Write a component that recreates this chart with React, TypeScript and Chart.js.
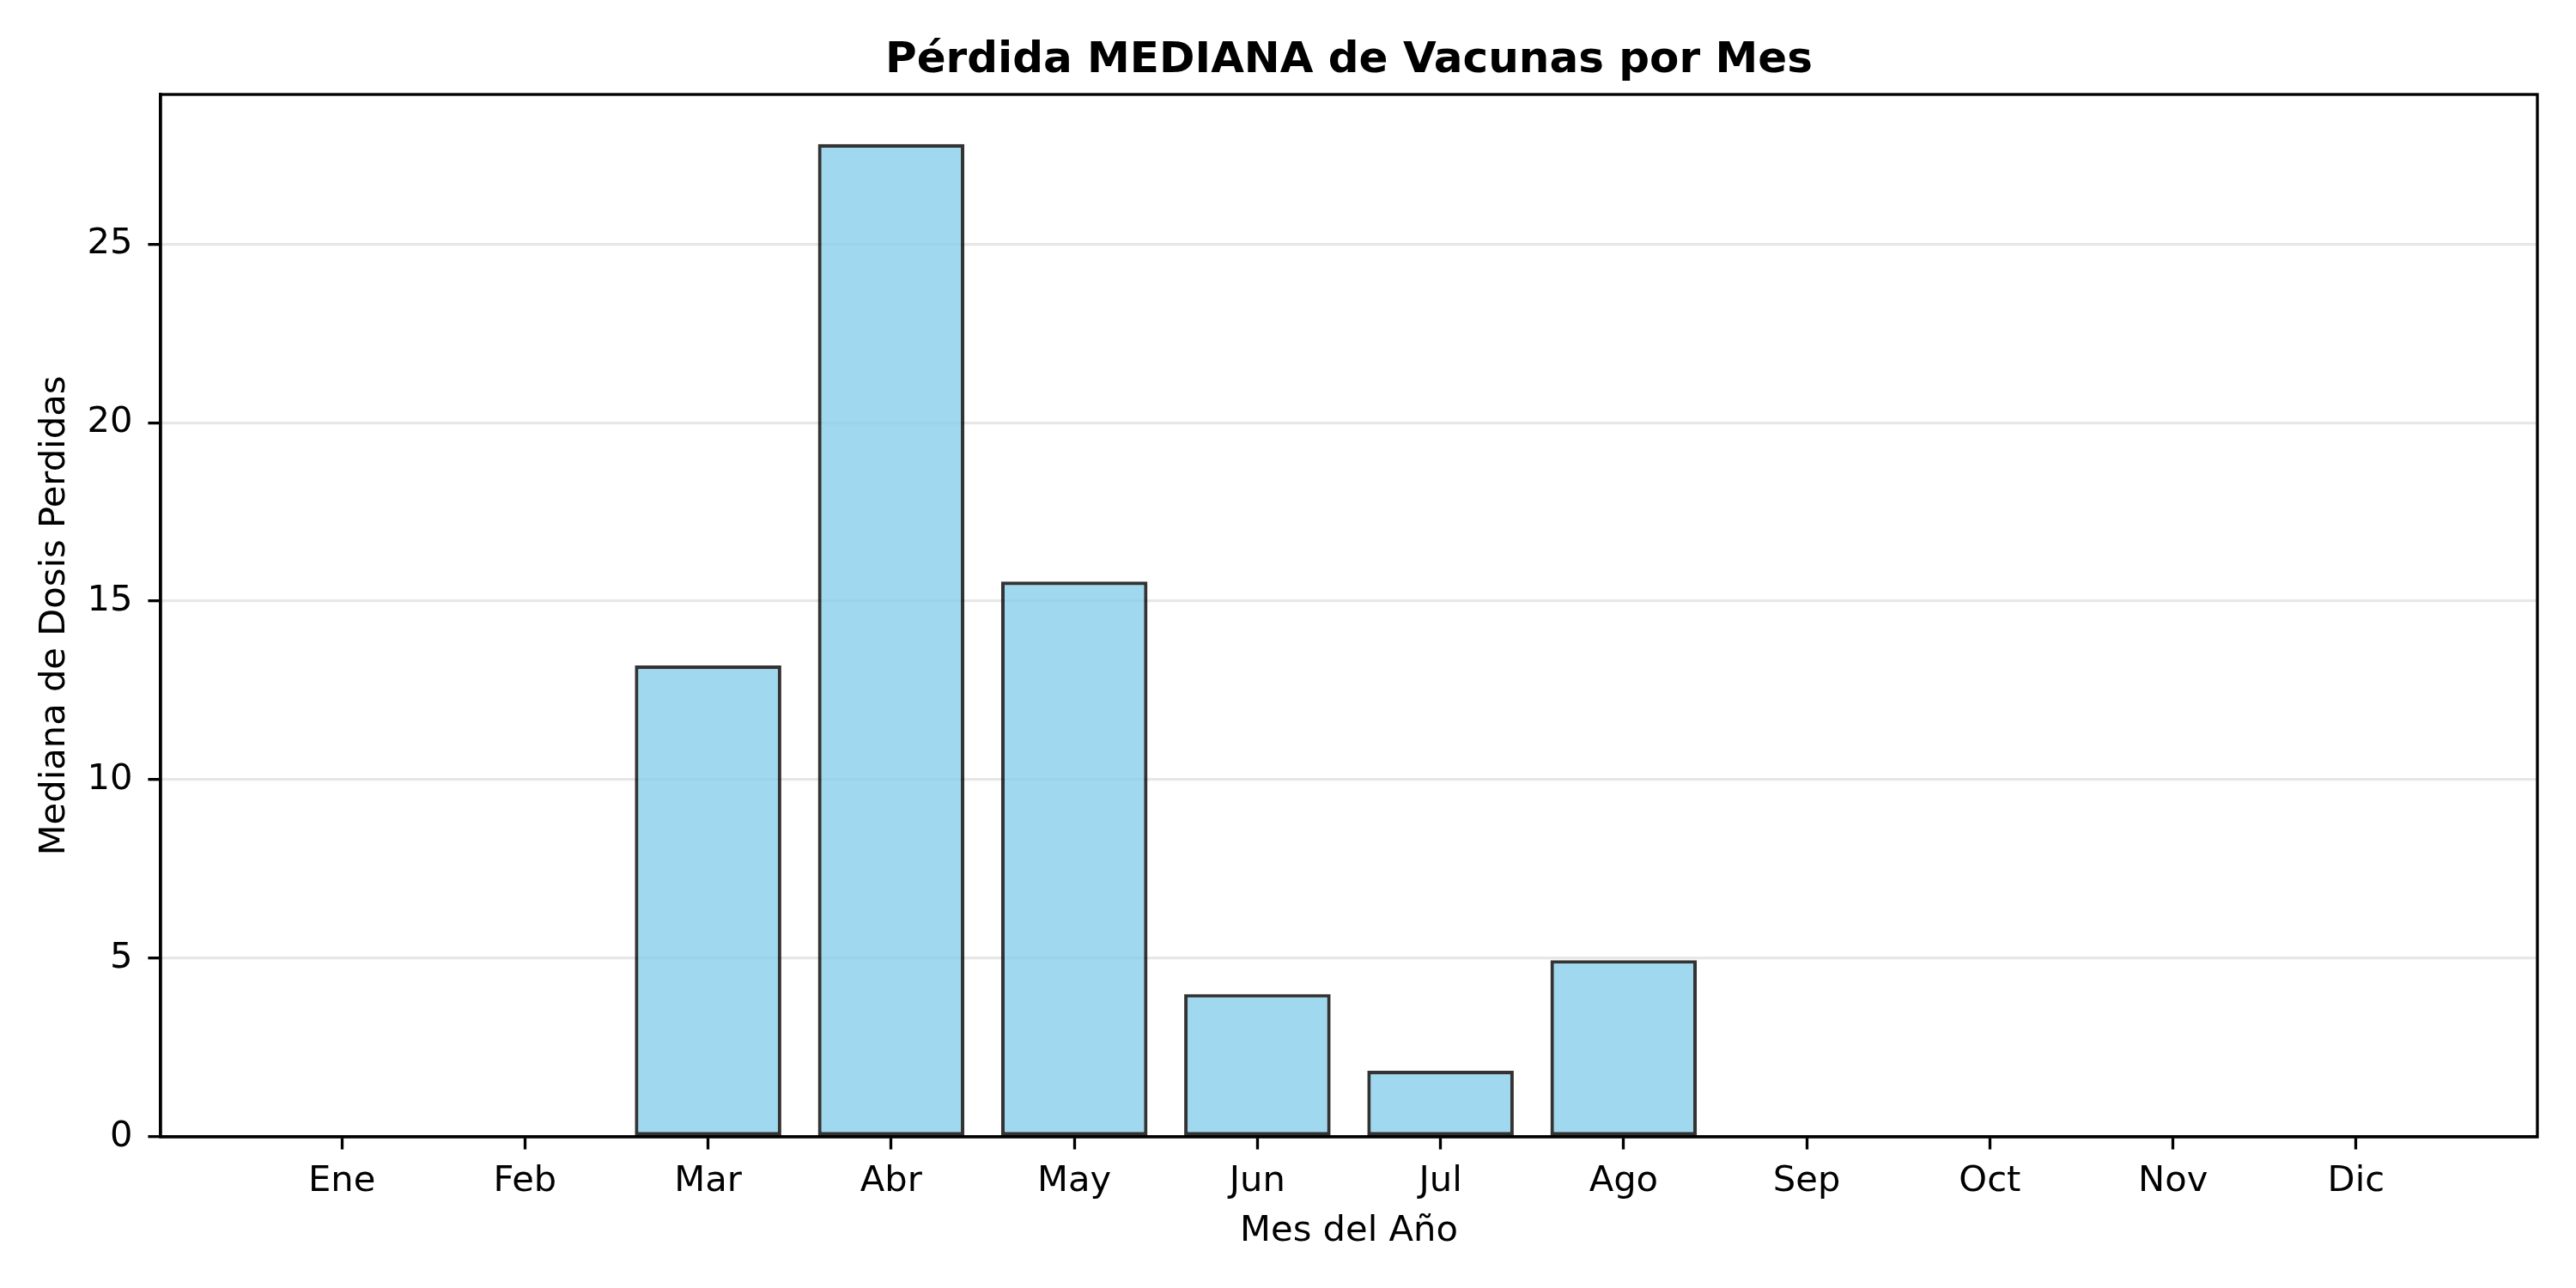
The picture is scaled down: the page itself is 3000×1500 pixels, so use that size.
import { useEffect, useRef } from 'react';
import { Chart, registerables } from 'chart.js';

Chart.register(...registerables);

const months = ['Ene', 'Feb', 'Mar', 'Abr', 'May', 'Jun', 'Jul', 'Ago', 'Sep', 'Oct', 'Nov', 'Dic'];
const medianLoss = [0, 0, 13.2, 27.8, 15.55, 4.0, 1.85, 4.95, 0, 0, 0, 0];
const yTicks = [0, 5, 10, 15, 20, 25];

const PT = 300 / 72; // figure was 300 dpi

// matplotlib-style box around the plot area
const frame = {
  id: 'frame',
  afterDraw(chart: Chart) {
    const { ctx, chartArea } = chart;
    ctx.save();
    ctx.strokeStyle = '#000';
    ctx.lineWidth = 0.8 * PT;
    ctx.strokeRect(chartArea.left, chartArea.top, chartArea.right - chartArea.left, chartArea.bottom - chartArea.top);
    ctx.restore();
  },
};

export default function App() {
  const canvasRef = useRef<HTMLCanvasElement>(null);
  const chartRef = useRef<Chart | null>(null);

  useEffect(() => {
    if (!canvasRef.current) return;
    if (chartRef.current) chartRef.current.destroy();

    Chart.defaults.font.family = "'DejaVu Sans', sans-serif";
    Chart.defaults.color = '#000';

    chartRef.current = new Chart(canvasRef.current, {
      type: 'bar',
      data: {
        datasets: [
          {
            label: 'Mediana',
            data: months.map((_, i) => ({ x: i, y: medianLoss[i] })),
            backgroundColor: 'rgba(135, 206, 235, 0.8)',
            borderColor: 'rgba(0, 0, 0, 0.8)',
            borderWidth: 1 * PT,
            borderSkipped: false,
            barPercentage: 0.8,
            categoryPercentage: 1,
          },
        ],
      },
      plugins: [frame],
      options: {
        responsive: false,
        animation: false,
        devicePixelRatio: 1,
        layout: { padding: { left: 0, right: 45, top: 0, bottom: 0 } },
        plugins: {
          legend: { display: false },
          tooltip: { enabled: false },
          title: {
            display: true,
            fullSize: false,
            text: 'Pérdida MEDIANA de Vacunas por Mes',
            font: { size: 12 * PT, weight: 'bold', lineHeight: 1.2 },
            color: '#000',
            padding: { top: 41, bottom: 9 },
          },
        },
        scales: {
          x: {
            type: 'linear',
            min: -0.99,
            max: 11.99,
            offset: false,
            z: 1,
            afterBuildTicks: (scale: any) => {
              scale.ticks = months.map((_, i) => ({ value: i }));
            },
            afterFit: (scale: any) => {
              scale.height = 176;
            },
            ticks: {
              autoSkip: false,
              maxRotation: 0,
              padding: 13,
              font: { size: 10 * PT },
              callback: (v: any) => months[v],
            },
            grid: {
              offset: false,
              drawOnChartArea: false,
              drawTicks: true,
              tickLength: 3.5 * PT,
              tickWidth: 0.8 * PT,
              tickColor: '#000',
            },
            border: { display: true, color: '#000', width: 0.8 * PT },
            title: {
              display: true,
              text: 'Mes del Año',
              font: { size: 10 * PT },
              padding: { top: 0, bottom: 41 },
            },
          },
          y: {
            min: 0,
            max: 29.19,
            z: 1,
            afterBuildTicks: (scale: any) => {
              scale.ticks = yTicks.map((v) => ({ value: v }));
            },
            afterFit: (scale: any) => {
              scale.width = 187;
            },
            ticks: {
              padding: 18,
              font: { size: 10 * PT },
            },
            grid: {
              color: 'rgba(176, 176, 176, 0.3)',
              lineWidth: 0.8 * PT,
              drawTicks: true,
              tickLength: 3.5 * PT,
              tickWidth: 0.8 * PT,
              tickColor: '#000',
            },
            border: { display: true, color: '#000', width: 0.8 * PT },
            title: {
              display: true,
              text: 'Mediana de Dosis Perdidas',
              font: { size: 10 * PT },
              padding: { top: 39, bottom: 0 },
            },
          },
        },
      },
    } as any);

    return () => {
      if (chartRef.current) {
        chartRef.current.destroy();
        chartRef.current = null;
      }
    };
  }, []);

  return (
    <div style={{ position: 'absolute', left: 0, top: 0, width: 3000, height: 1500, background: '#fff' }}>
      <canvas ref={canvasRef} width={3000} height={1500}></canvas>
    </div>
  );
}
